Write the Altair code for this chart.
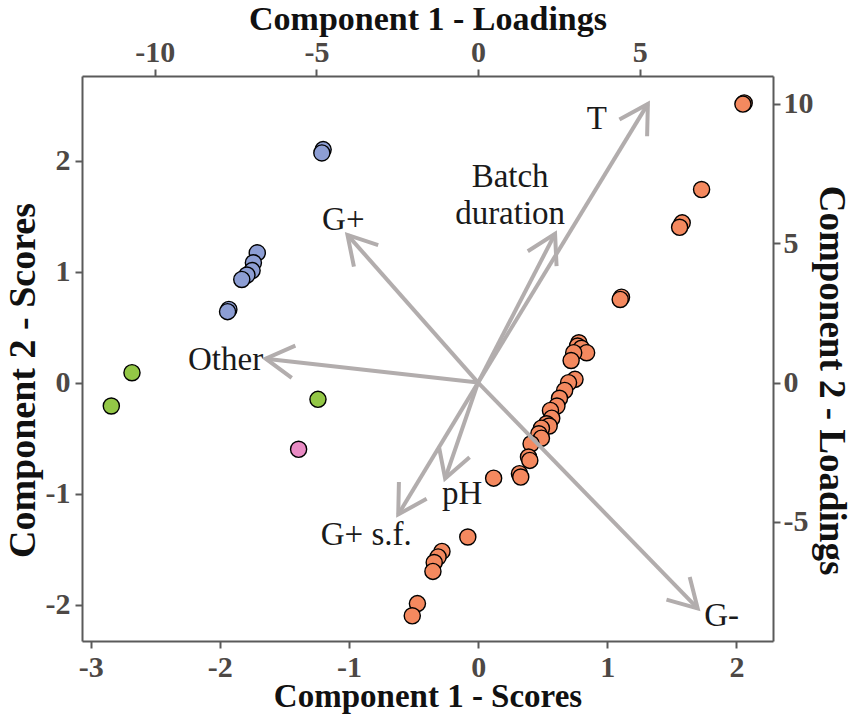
import math
import altair as alt
import pandas as pd

# ---- scores (points) ----
orange_x = [2.06, 2.05, 1.73, 1.58, 1.56, 1.11, 1.10,
            0.78, 0.77, 0.80, 0.84, 0.74, 0.72, 0.75, 0.70, 0.67, 0.63, 0.61,
            0.56, 0.57, 0.53, 0.55, 0.49, 0.47, 0.49, 0.41, 0.39, 0.40, 0.32,
            0.33, 0.12,
            -0.08, -0.28, -0.31, -0.34, -0.35, -0.47, -0.51]
orange_y = [2.52, 2.51, 1.74, 1.44, 1.40, 0.77, 0.75,
            0.36, 0.33, 0.31, 0.27, 0.27, 0.20, 0.03, 0.00, -0.07, -0.14, -0.21,
            -0.25, -0.32, -0.37, -0.39, -0.41, -0.46, -0.50, -0.55, -0.67, -0.70,
            -0.82, -0.85, -0.86,
            -1.39, -1.52, -1.57, -1.62, -1.70, -1.99, -2.10]
blue_x = [-1.20, -1.21, -1.71, -1.74, -1.75, -1.79, -1.83, -1.93, -1.94]
blue_y = [2.10, 2.07, 1.17, 1.08, 1.01, 0.97, 0.93, 0.66, 0.64]
green_x = [-2.68, -2.84, -1.24]
green_y = [0.09, -0.21, -0.15]
pink_x = [-1.39]
pink_y = [-0.60]

groups = ["orange", "blue", "green", "pink"]
group_colors = ["#F4895F", "#8D9ED4", "#93C746", "#E98BC4"]

# ---- loadings (arrows) ----
var_names = ["T", "Batch duration", "G+", "Other", "G+ s.f.", "pH", "G-"]
load_x = [5.25, 2.38, -4.04, -6.57, -2.47, -1.02, 6.79]
load_y = [10.0, 5.34, 5.30, 0.86, -4.73, -3.44, -8.10]
label_x = [3.67, 0.99, -4.17, -7.81, -3.46, -0.49, 7.53]
label_y = [9.46, 7.38, 5.84, 0.82, -5.45, -3.98, -8.39]

# axis domains / ticks
score_x_dom = [-3.067, 2.283]
score_y_dom = [-2.327, 2.763]
load_x_dom = [-12.25, 9.12]
load_y_dom = [-9.27, 11.0]
score_x_ticks = [-3, -2, -1, 0, 1, 2]
score_y_ticks = [-2, -1, 0, 1, 2]
load_x_ticks = [-10, -5, 0, 5]
load_y_ticks = [-5, 0, 5, 10]
W, H = 691, 565

rows = []
for g, xs, ys in [("orange", orange_x, orange_y), ("blue", blue_x, blue_y),
                  ("green", green_x, green_y), ("pink", pink_x, pink_y)]:
    for a, b in zip(xs, ys):
        rows.append({"group": g, "sx": a, "sy": b})
scores = pd.DataFrame(rows)

sx_px = W / (load_x_dom[1] - load_x_dom[0])
sy_px = H / (load_y_dom[1] - load_y_dom[0])
loads = pd.DataFrame({
    "name": var_names,
    "lab": [n.replace("Batch duration", "Batch\nduration") for n in var_names],
    "lx": load_x,
    "ly": load_y,
    "tx": label_x,
    "ty": label_y,
    "x0": [0.0] * len(var_names),
    "y0": [0.0] * len(var_names),
})
loads["ang"] = [math.degrees(math.atan2(a * sx_px, b * sy_px)) % 360
                for a, b in zip(load_x, load_y)]

FONT = "Liberation Serif"
axis_style = dict(
    grid=False, domainColor="#5a5a5a", domainWidth=2, tickColor="#5a5a5a",
    tickWidth=2, tickSize=7, labelFont=FONT, labelFontWeight="bold",
    labelFontSize=30, labelColor="#4d4845", titleFont=FONT,
    titleFontWeight="bold", titleColor="#111111",
    labelExpr="'' + datum.value", titleBaseline="alphabetic",
)

bottom_axis = alt.Axis(orient="bottom", values=score_x_ticks,
                       title="Component 1 - Scores", labelPadding=4,
                       titleFontSize=33, titleY=65, **axis_style)
left_axis = alt.Axis(orient="left", values=score_y_ticks,
                     title="Component 2 - Scores", labelPadding=5,
                     titleFontSize=38, titleX=-48, titleY=304, **axis_style)
top_axis = alt.Axis(orient="top", values=load_x_ticks,
                    title="Component 1 - Loadings", labelPadding=2,
                    titleFontSize=34, titleY=-47, **axis_style)
right_axis = alt.Axis(orient="right", values=load_y_ticks,
                      title="Component 2 - Loadings", labelPadding=3,
                      titleFontSize=37, titleX=46, titleY=304, **axis_style)

sxs = alt.Scale(domain=score_x_dom, nice=False, zero=False)
sys_ = alt.Scale(domain=score_y_dom, nice=False, zero=False)
lxs = alt.Scale(domain=load_x_dom, nice=False, zero=False)
lys = alt.Scale(domain=load_y_dom, nice=False, zero=False)

points = alt.Chart(scores).mark_point(
    filled=True, size=260, stroke="black", strokeWidth=1.4, opacity=1
).encode(
    x=alt.X("sx:Q", scale=sxs, axis=bottom_axis),
    y=alt.Y("sy:Q", scale=sys_, axis=left_axis),
    fill=alt.Fill("group:N", scale=alt.Scale(domain=groups, range=group_colors),
                  legend=None),
)

ARROW = "#B2ADAD"
shafts = alt.Chart(loads).mark_rule(color=ARROW, strokeWidth=4).encode(
    x=alt.X("x0:Q", scale=lxs, axis=top_axis),
    y=alt.Y("y0:Q", scale=lys, axis=right_axis),
    x2="lx:Q", y2="ly:Q",
)
heads = alt.Chart(loads).mark_point(
    shape="M-0.5,0.866L0,0L0.5,0.866", filled=False, size=4200,
    stroke=ARROW, strokeWidth=4, opacity=1
).encode(
    x=alt.X("lx:Q", scale=lxs, axis=top_axis),
    y=alt.Y("ly:Q", scale=lys, axis=right_axis),
    angle=alt.Angle("ang:Q", scale=None),
)
labels = alt.Chart(loads).mark_text(
    font=FONT, fontSize=33, color="#1a1a1a", lineBreak="\n", lineHeight=37,
    align="center", baseline="middle"
).encode(
    x=alt.X("tx:Q", scale=lxs, axis=top_axis),
    y=alt.Y("ty:Q", scale=lys, axis=right_axis),
    text="lab:N",
)

loading_layer = alt.layer(shafts, heads, labels)

chart = alt.layer(points, loading_layer).resolve_scale(
    x="independent", y="independent"
).properties(
    width=W, height=H,
    autosize=alt.AutoSizeParams(type="none"),
    padding={"left": 82, "top": 76, "right": 77, "bottom": 78},
    background="white",
).configure_view(stroke=None)

chart.save("out.html", embed_options={"renderer": "svg", "actions": False})
